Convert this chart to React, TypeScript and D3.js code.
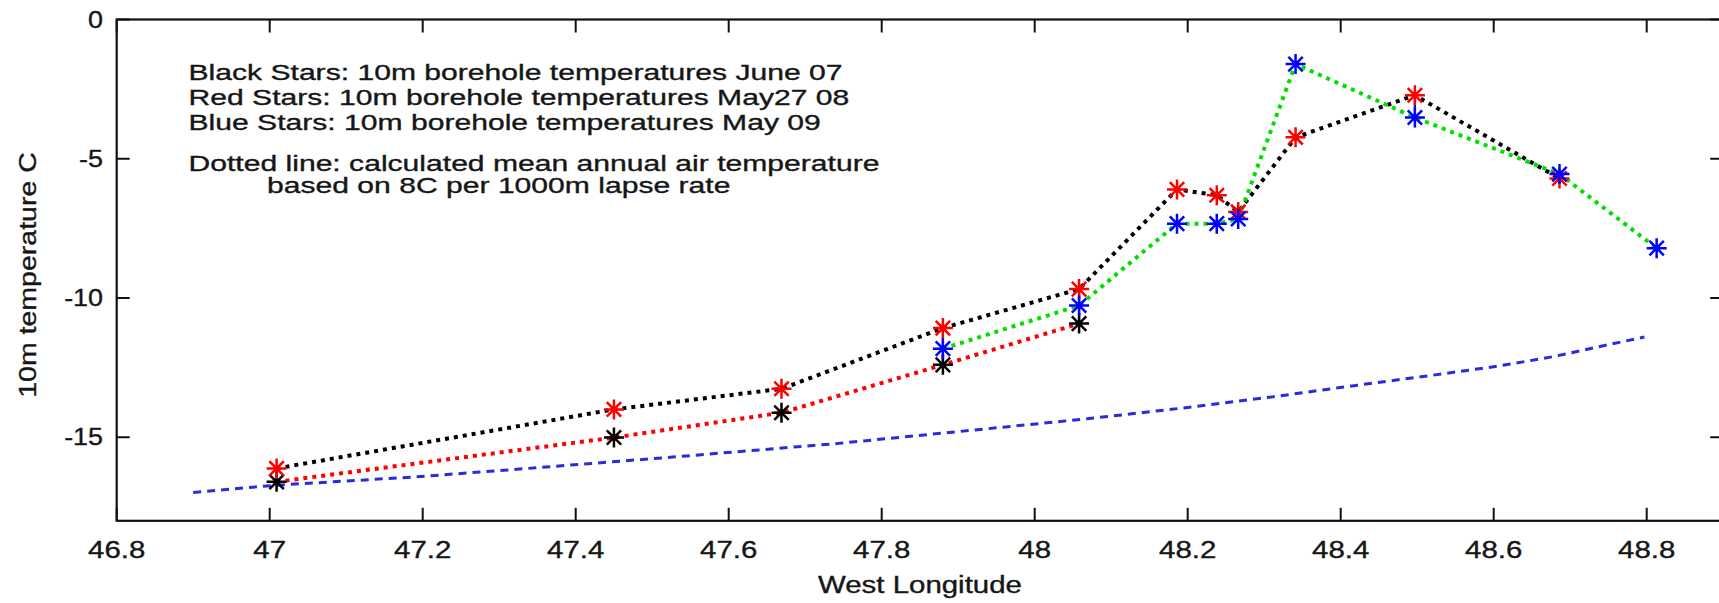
import React from "react";
import * as d3 from "d3";

// Borehole 10 m temperatures along the West Longitude profile
const june07Lon = [47.009, 47.45, 47.669, 47.88, 48.058];
const june07Temp = [-16.6, -15.01, -14.12, -12.4, -10.92];

const may08Lon = [47.009, 47.45, 47.669, 47.88, 48.058, 48.186, 48.238, 48.266, 48.341, 48.497, 48.686];
const may08Temp = [-16.12, -14.0, -13.26, -11.08, -9.68, -6.1, -6.31, -6.91, -4.23, -2.72, -5.71];

const may09Lon = [47.88, 48.058, 48.186, 48.238, 48.266, 48.341, 48.497, 48.686, 48.813];
const may09Temp = [-11.82, -10.27, -7.33, -7.33, -7.16, -1.6, -3.52, -5.55, -8.21];

// Mean annual air temperature from the 8C / 1000 m lapse rate
const maatLon = [46.9, 47.009, 47.192, 47.323, 47.523, 47.744, 47.962, 48.071, 48.21, 48.311, 48.422, 48.513, 48.605, 48.677, 48.751, 48.797];
const maatTemp = [-16.98, -16.72, -16.42, -16.15, -15.72, -15.22, -14.63, -14.33, -13.9, -13.55, -13.13, -12.8, -12.45, -12.11, -11.67, -11.4];

// Sites where the surveys are joined by a vertical range bar
const spreadLon = [47.88, 48.058, 48.497];

const xTicks = [46.8, 47, 47.2, 47.4, 47.6, 47.8, 48, 48.2, 48.4, 48.6, 48.8];
const xTickLabels = ["46.8", "47", "47.2", "47.4", "47.6", "47.8", "48", "48.2", "48.4", "48.6", "48.8"];
const yTicks = [0, -5, -10, -15];
const yTickLabels = ["0", "-5", "-10", "-15"];

const noteLines = [
  "Black Stars: 10m borehole temperatures June 07",
  "Red Stars: 10m borehole temperatures May27 08",
  "Blue Stars: 10m borehole temperatures May 09",
  "Dotted line: calculated mean annual air temperature",
  "based on 8C per 1000m lapse rate",
];

const W = 1719;
const H = 603;
const left = 116.7;
const top = 19.5;
const bottom = 520.8;
const FONT = "'Liberation Sans', Arial, sans-serif";
const TEXT = "#161616";

const x = d3.scaleLinear().domain([46.8, 48.9]).range([left, left + 2.1 * 765]);
const y = d3.scaleLinear().domain([-18, 0]).range([bottom, top]);
const right = x(48.9);

const zip = (xs: number[], ys: number[]) => xs.map((v, i) => [v, ys[i]] as [number, number]);
const line = d3.line<[number, number]>().x((d) => x(d[0])).y((d) => y(d[1]));

function Star({ cx, cy, color }: { cx: number; cy: number; color: string }) {
  const r = 10;
  const d = r * 0.72;
  return (
    <path
      d={`M${cx - r},${cy}H${cx + r}M${cx},${cy - r}V${cy + r}M${cx - d},${cy - d}L${cx + d},${cy + d}M${cx - d},${cy + d}L${cx + d},${cy - d}`}
      stroke={color}
      strokeWidth={2.5}
      fill="none"
    />
  );
}

function WideText({
  tx,
  ty,
  sx,
  fs,
  anchor = "start",
  rotate = 0,
  children,
}: {
  tx: number;
  ty: number;
  sx: number;
  fs: number;
  anchor?: string;
  rotate?: number;
  children: React.ReactNode;
}) {
  return (
    <g transform={`translate(${tx},${ty}) rotate(${rotate}) scale(${sx},1)`}>
      <text
        x={0}
        y={0}
        textAnchor={anchor}
        fontFamily={FONT}
        fontSize={fs}
        fill={TEXT}
        stroke={TEXT}
        strokeWidth={0.35}
      >
        {children}
      </text>
    </g>
  );
}

export default function App() {
  const tick = 13;
  const series = [
    { pts: zip(june07Lon, june07Temp), star: "#000000", link: "#ff0000" },
    { pts: zip(may08Lon, may08Temp), star: "#ff0000", link: "#000000" },
    { pts: zip(may09Lon, may09Temp), star: "#0000ff", link: "#00e000" },
  ];

  const spreads = spreadLon.map((lon) => {
    const vals = series.flatMap((s) => s.pts.filter((p) => Math.abs(p[0] - lon) < 1e-6).map((p) => p[1]));
    return { lon, hi: d3.max(vals) as number, lo: d3.min(vals) as number };
  });

  const noteX = [188.5, 188.5, 188.5, 188.5, 267];
  const noteY = [80, 105, 129.5, 170.5, 193];

  return (
    <svg
      width={W}
      height={H}
      style={{ position: "absolute", left: 0, top: 0, background: "#ffffff", overflow: "hidden" }}
    >
      <rect x={0} y={0} width={W} height={H} fill="#ffffff" />
      <defs>
        <clipPath id="plotArea">
          <rect x={left} y={top} width={right - left} height={bottom - top} />
        </clipPath>
      </defs>

      {/* axes box */}
      <rect x={left} y={top} width={right - left} height={bottom - top} fill="none" stroke="#111" strokeWidth={2.2} />

      {xTicks.map((t, i) => (
        <g key={`xt${i}`}>
          <line x1={x(t)} x2={x(t)} y1={bottom} y2={bottom - tick} stroke="#111" strokeWidth={2} />
          <line x1={x(t)} x2={x(t)} y1={top} y2={top + tick} stroke="#111" strokeWidth={2} />
          <WideText tx={x(t)} ty={558} sx={1.28} fs={23} anchor="middle">
            {xTickLabels[i]}
          </WideText>
        </g>
      ))}
      {yTicks.map((t, i) => (
        <g key={`yt${i}`}>
          <line x1={left} x2={left + tick} y1={y(t)} y2={y(t)} stroke="#111" strokeWidth={2} />
          <line x1={right} x2={right - tick} y1={y(t)} y2={y(t)} stroke="#111" strokeWidth={2} />
          <WideText tx={103} ty={y(t) + 8.2} sx={1.17} fs={23} anchor="end">
            {yTickLabels[i]}
          </WideText>
        </g>
      ))}

      <WideText tx={(left + right) / 2} ty={593} sx={1.28} fs={23} anchor="middle">
        West Longitude
      </WideText>
      <WideText tx={36} ty={275} sx={1.24} fs={23} anchor="middle" rotate={-90}>
        10m temperature C
      </WideText>

      {noteLines.map((s, i) => (
        <WideText key={`n${i}`} tx={noteX[i]} ty={noteY[i]} sx={1.368} fs={22}>
          {s}
        </WideText>
      ))}

      <g clipPath="url(#plotArea)">
        <path
          d={line(zip(maatLon, maatTemp)) || ""}
          fill="none"
          stroke="#2b2bdc"
          strokeWidth={3}
          strokeDasharray="8 6"
        />
        {series.map((s, i) => (
          <path
            key={`l${i}`}
            d={line(s.pts) || ""}
            fill="none"
            stroke={s.link}
            strokeWidth={4}
            strokeDasharray="4 5"
          />
        ))}
        {spreads.map((s, i) => (
          <line key={`sp${i}`} x1={x(s.lon)} x2={x(s.lon)} y1={y(s.hi)} y2={y(s.lo)} stroke="#0000ff" strokeWidth={2.2} />
        ))}
        {series.map((s, i) => (
          <g key={`s${i}`}>
            {s.pts.map((p, j) => (
              <Star key={j} cx={x(p[0])} cy={y(p[1])} color={s.star} />
            ))}
          </g>
        ))}
      </g>
    </svg>
  );
}
